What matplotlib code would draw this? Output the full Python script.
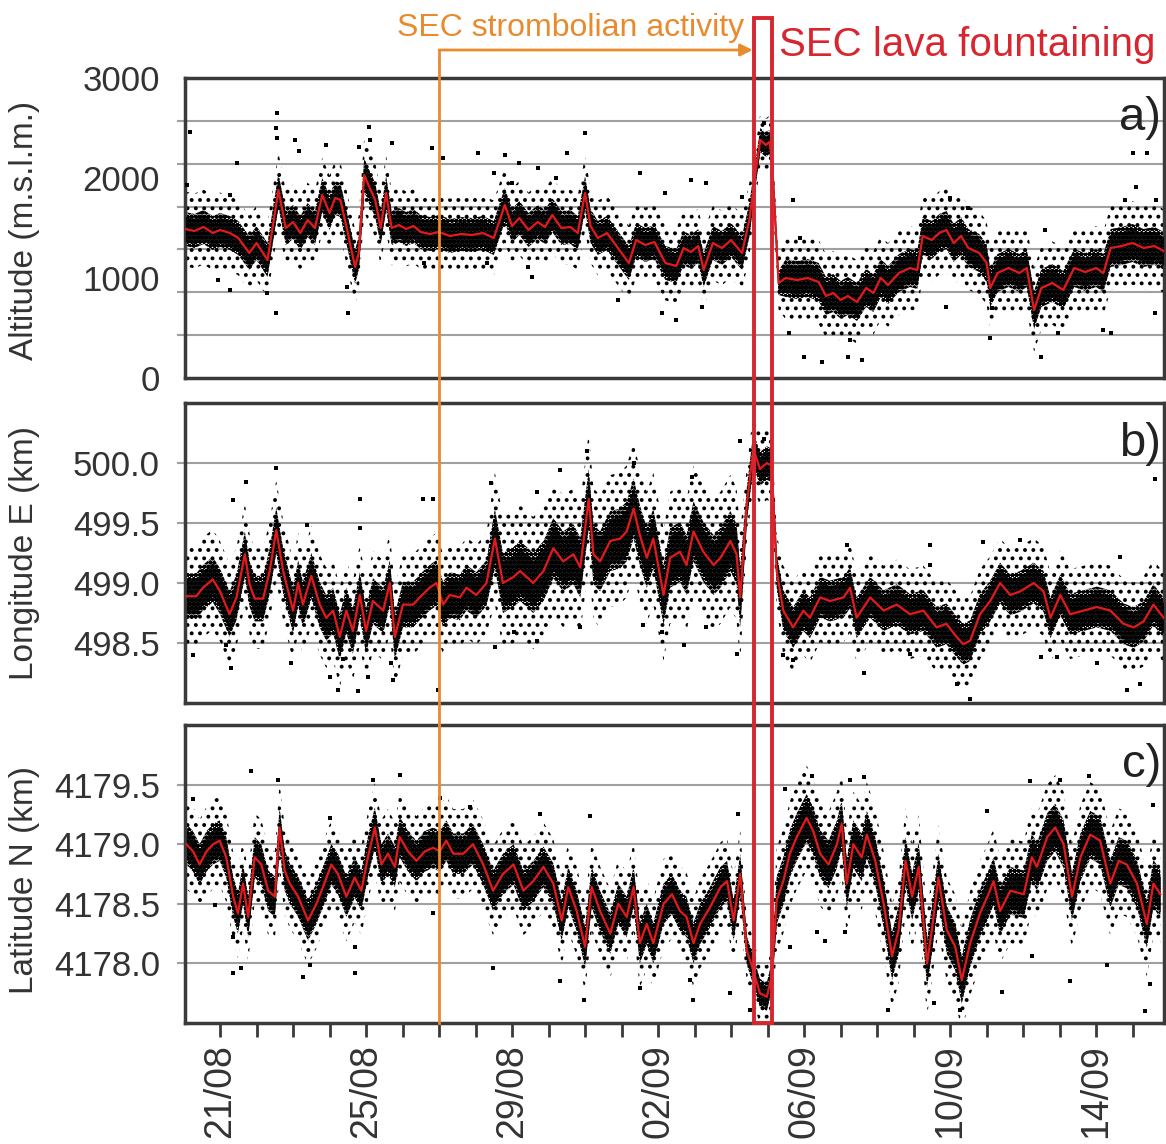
import numpy as np
import matplotlib
matplotlib.use('Agg')
import matplotlib.pyplot as plt
from matplotlib.patches import Rectangle, FancyArrowPatch
from matplotlib.lines import Line2D
from matplotlib.transforms import blended_transform_factory

plt.rcParams['font.family'] = ['Liberation Sans', 'DejaVu Sans']
plt.rcParams['hatch.color'] = 'black'
plt.rcParams['hatch.linewidth'] = 1.6

# time in days after 20/08 00:00
day_ticks = list(range(1, 27))
date_ticks = [1, 5, 9, 13, 17, 21, 25]
date_labels = ['21/08', '25/08', '29/08', '02/09', '06/09', '10/09', '14/09']
strombolian_start = 7.0
fountain_start = 15.63
fountain_end = 16.12

# a) altitude, red running mean
t_alt = [0.05, 0.3, 0.55, 0.8, 1.0, 1.27, 1.5, 1.8, 2.0, 2.3, 2.6, 2.8, 3.0, 3.2, 3.4, 3.6, 3.8, 4.0,
         4.15, 4.3, 4.5, 4.7, 4.8, 4.95, 5.1, 5.25, 5.4, 5.55, 5.7, 5.9, 6.1, 6.3, 6.5, 6.75, 7.0, 7.3,
         7.6, 7.9, 8.2, 8.5, 8.8, 9.0, 9.2, 9.45, 9.7, 9.9, 10.1, 10.35, 10.6, 10.8, 11.0, 11.15, 11.35,
         11.6, 11.9, 12.2, 12.4, 12.65, 12.9, 13.2, 13.5, 13.7, 13.9, 14.1, 14.25, 14.5, 14.75, 15.0,
         15.3, 15.5, 15.65, 15.8, 15.95, 16.05, 16.12, 16.22, 16.3, 16.5, 16.8, 17.1, 17.4, 17.6, 17.8,
         18.0, 18.2, 18.45, 18.7, 18.9, 19.1, 19.3, 19.6, 19.9, 20.1, 20.25, 20.5, 20.7, 20.9, 21.1,
         21.3, 21.5, 21.8, 22.0, 22.1, 22.3, 22.6, 22.9, 23.1, 23.3, 23.5, 23.8, 24.1, 24.4, 24.7, 25.0,
         25.2, 25.4, 25.7, 26.0, 26.3, 26.6, 26.85]
alt_mean = [1490, 1470, 1510, 1450, 1480, 1450, 1400, 1250, 1350, 1180, 1880, 1500, 1560, 1450, 1580,
            1500, 1830, 1650, 1800, 1780, 1450, 1110, 1250, 2030, 1900, 1780, 1500, 1850, 1500, 1530,
            1490, 1520, 1460, 1440, 1460, 1420, 1440, 1430, 1450, 1400, 1730, 1520, 1600, 1480, 1560,
            1510, 1630, 1500, 1510, 1450, 1850, 1520, 1400, 1450, 1300, 1150, 1380, 1330, 1360, 1150,
            1120, 1300, 1260, 1320, 1080, 1350, 1300, 1380, 1250, 1580, 2000, 2380, 2330, 2360, 2180,
            1500, 950, 1000, 980, 1000, 960, 820, 850, 780, 820, 760, 900, 850, 1000, 930, 1050, 1100,
            1080, 1420, 1380, 1450, 1480, 1350, 1420, 1300, 1250, 1150, 900, 1050, 1100, 1050, 1100,
            680, 900, 950, 880, 1100, 1060, 1100, 1050, 1300, 1320, 1350, 1300, 1320, 1270]
alt_spread_edges = [15.5, 16.3]
alt_spread = [170, 120, 190]
alt_out_t = [0.18, 2.56, 2.53, 2.55, 2.53, 2.3, 4.5, 4.47, 5.08, 5.12, 5.7, 3.05, 3.15, 3.9, 4.8, 6.8,
             7.1, 8.07, 8.8, 11.0, 0.95, 1.27, 6.6, 9.55, 9.45, 1.47, 1.27, 0.1, 8.3, 12.5, 13.2, 13.9,
             14.3, 13.1, 13.5, 14.2, 11.9, 15.3, 15.9, 16.7, 16.9, 17.0, 17.5, 18.2, 18.6, 16.6, 18.25,
             21.0, 21.5, 20.9, 22.1, 23.5, 23.6, 23.95, 25.4, 26.0, 26.4, 26.1, 25.8, 26.6, 25.2, 26.65,
             22.15, 23.3, 8.5, 9.2, 9.7, 10.2, 10.5, 9.0]
alt_out_v = [2460, 2650, 2500, 2400, 650, 850, 650, 910, 2510, 2380, 2350, 2380, 2270, 2330, 2310,
             2300, 2200, 2250, 2230, 2450, 980, 880, 1150, 1010, 1110, 2150, 1830, 1930, 1150, 2050,
             1850, 1980, 1950, 650, 580, 710, 780, 1810, 2550, 1780, 1400, 210, 160, 210, 180, 450, 380,
             1800, 1700, 710, 400, 210, 1480, 450, 450, 2250, 2250, 1910, 1780, 650, 480, 1780, 700,
             610, 2050, 2150, 2100, 2000, 2250, 1950]

# b) longitude E
t_lon = [0.08, 0.35, 0.53, 0.8, 1.0, 1.26, 1.45, 1.68, 1.81, 1.95, 2.18, 2.36, 2.54, 2.73, 3.0, 3.14,
         3.27, 3.5, 3.73, 3.91, 4.1, 4.28, 4.46, 4.64, 4.83, 5.0, 5.19, 5.47, 5.65, 5.79, 6.01, 6.29,
         6.47, 6.74, 6.93, 7.11, 7.29, 7.57, 7.75, 8.02, 8.3, 8.53, 8.75, 9.04, 9.22, 9.58, 9.86, 10.13,
         10.4, 10.68, 10.87, 11.1, 11.23, 11.41, 11.69, 11.96, 12.14, 12.33, 12.5, 12.69, 12.87, 13.15,
         13.33, 13.6, 13.78, 13.97, 14.24, 14.52, 14.71, 14.98, 15.15, 15.25, 15.43, 15.61, 15.79,
         15.98, 16.11, 16.25, 16.43, 16.7, 16.98, 17.16, 17.44, 17.71, 18.08, 18.26, 18.44, 18.81,
         19.18, 19.54, 19.9, 20.27, 20.63, 20.9, 21.18, 21.36, 21.55, 21.82, 22.1, 22.37, 22.65, 22.92,
         23.29, 23.56, 23.75, 24.02, 24.29, 24.66, 25.02, 25.39, 25.75, 26.03, 26.3, 26.57, 26.85]
lon_mean = [498.89, 498.89, 498.96, 499.03, 498.93, 498.74, 498.88, 499.24, 498.99, 498.87, 498.87,
            499.1, 499.44, 499.1, 498.77, 499.0, 498.82, 499.06, 498.82, 498.71, 498.77, 498.55,
            498.77, 498.6, 498.9, 498.6, 498.85, 498.77, 499.0, 498.55, 498.82, 498.82, 498.88,
            498.96, 499.0, 498.82, 498.9, 498.88, 498.96, 498.9, 499.0, 499.37, 499.0, 499.05,
            499.1, 499.0, 499.1, 499.29, 499.18, 499.24, 499.13, 499.7, 499.24, 499.18, 499.35,
            499.37, 499.43, 499.62, 499.4, 499.21, 499.37, 498.9, 499.21, 499.26, 499.15, 499.43,
            499.26, 499.15, 499.21, 499.35, 499.24, 498.88, 499.65, 500.12, 499.95, 500.0, 499.98,
            499.1, 498.77, 498.63, 498.77, 498.71, 498.88, 498.85, 498.88, 498.96, 498.71, 498.88,
            498.77, 498.82, 498.74, 498.77, 498.63, 498.66, 498.55, 498.49, 498.52, 498.74, 498.85,
            499.0, 498.9, 498.93, 499.0, 498.93, 498.71, 498.9, 498.74, 498.77, 498.8, 498.77,
            498.66, 498.63, 498.68, 498.82, 498.71]
lon_spread_edges = [8.5, 15.3, 16.3]
lon_spread = [0.19, 0.25, 0.14, 0.17]
lon_out_t = [2.53, 1.72, 1.36, 4.83, 4.83, 6.56, 6.84, 3.37, 8.43, 0.26, 1.31, 1.17, 2.95, 4.0, 4.23,
             4.78, 5.05, 5.74, 5.69, 6.97, 8.52, 4.37, 11.05, 12.33, 10.31, 13.92, 9.68, 15.25, 15.89,
             15.16, 16.71, 16.43, 13.7, 13.1, 9.68, 9.04, 10.86, 12.6, 14.3, 20.45, 20.45, 21.91,
             22.92, 18.17, 26.6, 25.66, 18.63, 21.18, 21.55, 25.84, 26.2, 23.93, 23.48, 25.02, 19.9]
lon_out_v = [499.96, 499.84, 499.69, 499.7, 499.46, 499.7, 499.7, 499.48, 499.83, 498.4, 498.29,
             498.48, 498.33, 498.22, 498.11, 498.1, 498.22, 498.19, 498.33, 498.11, 498.47, 498.37,
             500.1, 500.0, 499.94, 499.88, 499.76, 500.18, 500.2, 498.41, 498.36, 498.4, 498.48,
             498.59, 498.52, 498.59, 498.63, 498.65, 498.63, 499.32, 499.15, 499.34, 499.36, 499.32,
             499.87, 499.22, 498.25, 498.16, 498.03, 498.11, 498.16, 498.38, 498.38, 498.33, 498.41]

# c) latitude N
t_lat = [0.08, 0.26, 0.44, 0.63, 0.81, 0.99, 1.17, 1.36, 1.49, 1.63, 1.77, 1.95, 2.13, 2.32, 2.5, 2.63,
         2.77, 2.91, 3.14, 3.41, 3.64, 3.82, 4.05, 4.23, 4.46, 4.69, 4.87, 5.05, 5.24, 5.42, 5.6, 5.79,
         5.92, 6.15, 6.38, 6.61, 6.84, 7.02, 7.2, 7.39, 7.66, 7.93, 8.21, 8.48, 8.75, 9.04, 9.31, 9.58,
         9.86, 10.13, 10.36, 10.54, 10.77, 11.0, 11.18, 11.41, 11.69, 11.91, 12.14, 12.33, 12.5, 12.69,
         12.87, 13.15, 13.38, 13.6, 13.78, 13.97, 14.15, 14.42, 14.71, 14.89, 15.07, 15.25, 15.43,
         15.61, 15.79, 15.98, 16.11, 16.25, 16.43, 16.61, 16.8, 17.07, 17.25, 17.44, 17.67, 17.9,
         18.03, 18.17, 18.35, 18.58, 18.72, 18.95, 19.18, 19.41, 19.59, 19.78, 19.96, 20.14, 20.37,
         20.5, 20.68, 20.91, 21.14, 21.32, 21.55, 21.82, 22.05, 22.19, 22.37, 22.65, 23.02, 23.24,
         23.38, 23.66, 23.88, 24.11, 24.34, 24.57, 24.84, 25.11, 25.39, 25.62, 25.84, 26.12, 26.39,
         26.57, 26.76]
lat_mean = [4179.0, 4178.94, 4178.83, 4178.94, 4179.0, 4179.03, 4178.89, 4178.56, 4178.42, 4178.67,
            4178.39, 4178.89, 4178.83, 4178.61, 4178.56, 4179.14, 4178.78, 4178.67, 4178.56, 4178.36,
            4178.5, 4178.64, 4178.83, 4178.75, 4178.56, 4178.72, 4178.61, 4178.89, 4179.14, 4178.83,
            4178.92, 4178.81, 4179.06, 4178.94, 4178.86, 4178.94, 4178.97, 4178.94, 4179.03, 4178.92,
            4178.92, 4179.0, 4178.83, 4178.61, 4178.75, 4178.83, 4178.61, 4178.69, 4178.81, 4178.67,
            4178.36, 4178.64, 4178.44, 4178.14, 4178.64, 4178.44, 4178.25, 4178.5, 4178.39, 4178.64,
            4178.17, 4178.33, 4178.17, 4178.5, 4178.58, 4178.44, 4178.39, 4178.17, 4178.33, 4178.47,
            4178.64, 4178.69, 4178.36, 4178.75, 4178.11, 4177.94, 4177.75, 4177.72, 4177.89, 4178.53,
            4178.69, 4178.92, 4179.06, 4179.22, 4179.11, 4178.92, 4178.83, 4179.0, 4179.17, 4178.67,
            4179.0, 4178.89, 4179.08, 4178.86, 4178.5, 4178.06, 4178.28, 4178.86, 4178.56, 4178.81,
            4178.0, 4178.28, 4178.72, 4178.28, 4178.14, 4177.86, 4178.17, 4178.42, 4178.58, 4178.69,
            4178.44, 4178.61, 4178.58, 4178.89, 4178.81, 4179.06, 4179.14, 4179.0, 4178.56, 4178.89,
            4179.08, 4179.03, 4178.67, 4178.86, 4178.83, 4178.67, 4178.33, 4178.67, 4178.58]
lat_spread_edges = [15.4, 16.2]
lat_spread = [0.17, 0.12, 0.2]
lat_out_t = [1.86, 2.59, 5.19, 5.92, 0.26, 7.02, 1.36, 1.58, 3.27, 3.46, 4.69, 4.69, 6.84, 8.48, 1.36,
             0.85, 4.0, 7.84, 9.77, 11.14, 15.2, 17.21, 16.48, 10.96, 13.97, 15.52, 10.31, 13.88, 14.97,
             12.5, 16.62, 17.35, 17.58, 18.63, 18.26, 23.2, 24.02, 24.8, 22.0, 26.57, 19.31, 21.28,
             22.42, 24.29, 25.3, 26.34, 20.57, 18.12, 23.24, 26.48]
lat_out_v = [4179.61, 4179.54, 4179.54, 4179.58, 4179.38, 4179.39, 4177.92, 4177.96, 4177.89,
             4177.99, 4177.92, 4178.14, 4178.42, 4177.96, 4178.22, 4178.49, 4179.22, 4179.31,
             4179.25, 4179.24, 4179.25, 4179.57, 4179.46, 4177.69, 4177.69, 4177.61, 4177.85,
             4177.86, 4177.75, 4177.79, 4178.14, 4178.26, 4178.19, 4179.56, 4179.54, 4179.53,
             4179.54, 4179.57, 4179.28, 4179.33, 4177.61, 4177.61, 4177.76, 4177.85, 4177.99,
             4177.6, 4177.67, 4178.26, 4178.06, 4177.83]

W, H = 1166, 1144
fig = plt.figure(figsize=(W / 100, H / 100), dpi=100)
txt = '#333333'
frame = '#3a3a3a'
gridc = '#a0a0a0'
redc = '#e31a1c'
orange = '#e88a2e'
boxred = '#d7262f'


def make_panel(top, bottom):
    return fig.add_axes([185 / W, 1 - bottom / H, 979 / W, (bottom - top) / H])


def draw_series(ax, t, m, edges, spread, out_t, out_v):
    t = np.array(t)
    m = np.array(m)
    s = np.array(spread)[np.searchsorted(edges, t)]
    # sparse outer cloud as stipple, dense core as dark band
    ax.fill_between(t, m - 2.2 * s, m + 2.2 * s, facecolor='none', edgecolor='black', hatch='..',
                    lw=0, zorder=2)
    ax.fill_between(t, m - s, m + s, facecolor='none', edgecolor='black', hatch='oooo',
                    lw=0, zorder=2)
    ax.fill_between(t, m - 0.75 * s, m + 0.75 * s, color='black', alpha=0.85, lw=0, zorder=3)
    ax.plot(out_t, out_v, 's', color='black', ms=2.8, mew=0, zorder=3)
    ax.plot(t, m, color=redc, lw=1.6, zorder=4)


def style(ax, grid_vals, label_vals, labels, ylim, letter):
    ax.set_xlim(0.04, 26.86)
    ax.set_ylim(*ylim)
    ax.yaxis.remove_overlapping_locs = False
    ax.set_yticks(grid_vals)
    ax.set_yticklabels([])
    ax.set_yticks(label_vals, minor=True)
    ax.set_yticklabels(labels, minor=True, fontsize=25, color=txt)
    ax.tick_params(axis='y', which='major', length=6, width=1.5, color=gridc, direction='out')
    ax.tick_params(axis='y', which='minor', length=0, pad=18)
    ax.yaxis.grid(True, which='major', color=gridc, lw=1.5, zorder=0)
    for sp in ax.spines.values():
        sp.set_color(frame)
        sp.set_linewidth(2.5)
    ax.text(0.997, 0.865, letter, transform=ax.transAxes, ha='right', va='center', fontsize=34,
            color='#222222', zorder=6)


ax_a = make_panel(78, 378)
ax_b = make_panel(403, 703)
ax_c = make_panel(725, 1023)

draw_series(ax_a, t_alt, alt_mean, alt_spread_edges, alt_spread, alt_out_t, alt_out_v)
draw_series(ax_b, t_lon, lon_mean, lon_spread_edges, lon_spread, lon_out_t, lon_out_v)
draw_series(ax_c, t_lat, lat_mean, lat_spread_edges, lat_spread, lat_out_t, lat_out_v)

style(ax_a, [3000 / 7 * k for k in range(1, 7)], [0, 1000, 2000, 3000], ['0', '1000', '2000', '3000'],
      (0, 3000), 'a)')
style(ax_b, [498.5, 499.0, 499.5, 500.0], [498.5, 499.0, 499.5, 500.0],
      ['498.5', '499.0', '499.5', '500.0'], (498.0, 500.5), 'b)')
style(ax_c, [4178.0, 4178.5, 4179.0, 4179.5], [4178.0, 4178.5, 4179.0, 4179.5],
      ['4178.0', '4178.5', '4179.0', '4179.5'], (4177.5, 4180.0), 'c)')

for ax in (ax_a, ax_b):
    ax.set_xticks([])
ax_c.set_xticks(day_ticks)
ax_c.set_xticklabels([date_labels[date_ticks.index(d)] if d in date_ticks else '' for d in day_ticks],
                     rotation=90, fontsize=27, color=txt)
ax_c.tick_params(axis='x', length=10, width=2, color=frame, direction='out', pad=5)

fig.text(25 / W, 1 - 230 / H, 'Altitude (m.s.l.m.)', rotation=90, ha='center', va='center',
         fontsize=24, color=txt)
fig.text(25 / W, 1 - 553 / H, 'Longitude E (km)', rotation=90, ha='center', va='center',
         fontsize=24, color=txt)
fig.text(25 / W, 1 - 880 / H, 'Latitude N (km)', rotation=90, ha='center', va='center',
         fontsize=24, color=txt)

# event markers across all panels
tr = blended_transform_factory(ax_c.transData, fig.transFigure)
fig.add_artist(Line2D([strombolian_start, strombolian_start], [1 - 1023 / H, 1 - 50 / H], transform=tr,
                      color=orange, lw=2, zorder=10))
fig.add_artist(FancyArrowPatch((strombolian_start, 1 - 50 / H), (fountain_start - 0.04, 1 - 50 / H),
                               transform=tr, arrowstyle='-|>', mutation_scale=18, color=orange, lw=2,
                               shrinkA=0, shrinkB=0, zorder=10))
fig.add_artist(Rectangle((fountain_start, 1 - 1023 / H), fountain_end - fountain_start, (1023 - 18) / H,
                         transform=tr, fill=False, edgecolor=boxred, lw=2.8, zorder=10))
fig.text(397 / W, 1 - 28 / H, 'SEC strombolian activity', ha='left', va='center', fontsize=23,
         color=orange)
fig.text(779 / W, 1 - 45 / H, 'SEC lava fountaining', ha='left', va='center', fontsize=29,
         color=boxred)

fig.savefig('out.png', dpi=100)
